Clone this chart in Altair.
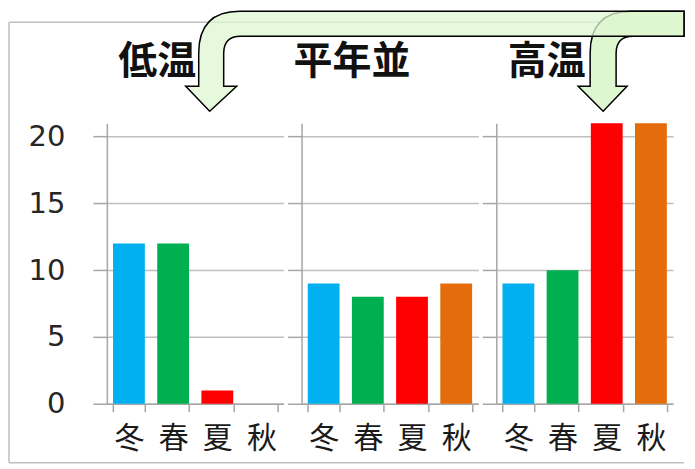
import altair as alt
import pandas as pd

groups = ["低温", "平年並", "高温"]
seasons = ["冬", "春", "夏", "秋"]
low_vals = [12, 12, 1, 0]
normal_vals = [9, 8, 8, 9]
high_vals = [9, 10, 21, 21]
season_colors = ["#00B0F0", "#00B050", "#FF0000", "#E46C0A"]
y_ticks = [0, 5, 10, 15, 20]

# decorative curved arrows (custom symbol paths)
ARROW1 = ("M 0 0.48 L 0.27 0.23 L 0.14 0.23 L 0.14 -0.10 Q 0.14 -0.27 0.31 -0.27 "
          "L 4.75 -0.27 L 4.75 -0.52 L 0.30 -0.52 Q -0.11 -0.52 -0.11 -0.10 "
          "L -0.11 0.23 L -0.24 0.23 Z")
ARROW2 = ("M 0 0.48 L 0.24 0.23 L 0.13 0.23 L 0.13 -0.10 Q 0.13 -0.27 0.30 -0.27 "
          "L 0.81 -0.27 L 0.81 -0.52 L 0.28 -0.52 Q -0.13 -0.52 -0.13 -0.10 "
          "L -0.13 0.23 L -0.25 0.23 Z")

W = 177
H = 281
GRAY = "#A6A6A6"


def panel(name, vals, first):
    df = pd.DataFrame({"season": seasons, "value": vals})
    bars = alt.Chart(df).mark_bar().encode(
        x=alt.X(
            "season:N", sort=seasons,
            scale=alt.Scale(paddingInner=0.28, paddingOuter=0.14),
            axis=alt.Axis(title=None, labelAngle=0, tickBand="extent",
                          tickSize=8, labelPadding=12,
                          labelFont="Noto Sans CJK JP", labelFontSize=30,
                          labelColor="#1A1A1A", domainColor=GRAY,
                          domainWidth=1.5, tickColor=GRAY, tickWidth=1.5),
        ),
        y=alt.Y(
            "value:Q",
            scale=alt.Scale(domain=[0, 21], nice=False),
            axis=alt.Axis(title=None, values=y_ticks, labels=first,
                          tickSize=14, labelPadding=28,
                          labelFont="DejaVu Sans", labelFontSize=29,
                          labelColor="#262626", domainColor=GRAY,
                          domainWidth=1.5, tickColor=GRAY, tickWidth=1.5,
                          gridColor="#BFBFBF", gridWidth=1.5),
        ),
        color=alt.Color("season:N",
                        scale=alt.Scale(domain=seasons, range=season_colors),
                        legend=None),
    )
    head = alt.Chart(pd.DataFrame({"name": [name]})).mark_text(
        font="Noto Sans CJK JP", fontSize=39, fontWeight="bold",
        color="#111111", align="center", baseline="alphabetic"
    ).encode(text="name:N", x=alt.value(W / 2 - 38), y=alt.value(-49))
    return bars, head


deco = pd.DataFrame({"k": [0]})
frame_style = dict(stroke="#BFBFBF", strokeWidth=1.5)
frame_top = alt.Chart(deco).mark_rule(**frame_style).encode(
    x=alt.value(-98), x2=alt.value(578), y=alt.value(-101))
frame_bottom = alt.Chart(deco).mark_rule(**frame_style).encode(
    x=alt.value(-98), x2=alt.value(578), y=alt.value(340))
frame_left = alt.Chart(deco).mark_rule(**frame_style).encode(
    x=alt.value(-98), y=alt.value(-101), y2=alt.value(340))

arrow2 = alt.Chart(deco).mark_point(
    shape=ARROW2, size=40000, filled=True, fill="#DDF7D0", stroke="black",
    strokeWidth=1.5, opacity=1
).encode(x=alt.value(497), y=alt.value(-60))
arrow1 = alt.Chart(deco).mark_point(
    shape=ARROW1, size=40000, filled=True, fill="#DDF7D0", stroke="black",
    strokeWidth=1.5, opacity=1, fillOpacity=0.75
).encode(x=alt.value(103), y=alt.value(-60))

b1, h1 = panel(groups[0], low_vals, True)
b2, h2 = panel(groups[1], normal_vals, False)
b3, h3 = panel(groups[2], high_vals, False)

p1 = alt.layer(frame_top, frame_bottom, frame_left, b1, h1, arrow2, arrow1).properties(
    width=W, height=H)
p2 = alt.layer(b2, h2).properties(width=W, height=H)
p3 = alt.layer(b3, h3).properties(width=W, height=H)

chart = alt.hconcat(p1, p2, p3, spacing=18, bounds="flush").properties(
    padding=0, background="white"
).configure_view(strokeWidth=0)

chart.save("out.html", embed_options={"renderer": "svg", "actions": False})
